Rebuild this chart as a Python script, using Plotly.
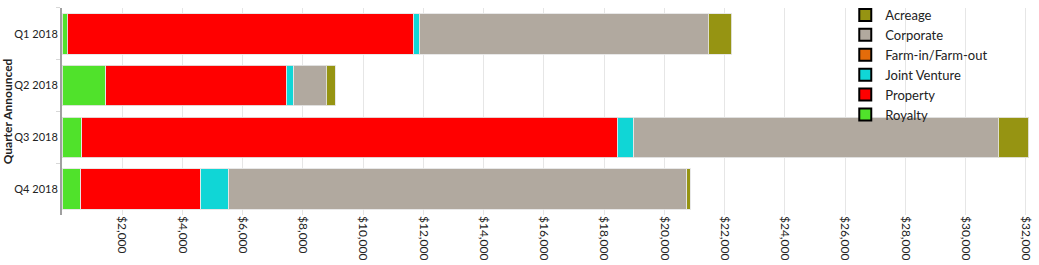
import plotly.graph_objects as go

quarters = ["Q1 2018", "Q2 2018", "Q3 2018", "Q4 2018"]
royalty = [170, 1450, 650, 620]
property_ = [11485, 5990, 17790, 3985]
farm_in = [0, 0, 0, 0]
joint_venture = [210, 250, 540, 930]
corporate = [9590, 1085, 12105, 15200]
acreage = [780, 300, 1015, 120]

tick_values = list(range(2000, 34000, 2000))
tick_labels = [f"${v:,}" for v in tick_values]

series = [
    ("Royalty", royalty, "#50E22B"),
    ("Property", property_, "#FF0000"),
    ("Farm-in/Farm-out", farm_in, "#E46C0A"),
    ("Joint Venture", joint_venture, "#10D6D6"),
    ("Corporate", corporate, "#B1A99F"),
    ("Acreage", acreage, "#969412"),
]
legend_order = ["Acreage", "Corporate", "Farm-in/Farm-out", "Joint Venture", "Property", "Royalty"]

FONT = "Lato, Open Sans, DejaVu Sans, sans-serif"

fig = go.Figure()
for name, vals, color in series:
    fig.add_trace(go.Bar(
        y=quarters, x=vals, name=name, orientation="h",
        marker=dict(color=color, line=dict(color="rgba(230,230,230,0.9)", width=1)),
        showlegend=False,
    ))

colors = {n: c for n, _, c in series}
for name in legend_order:
    fig.add_trace(go.Scatter(
        x=[None], y=[None], mode="markers", name=name,
        marker=dict(symbol="square", size=12, color=colors[name], line=dict(color="black", width=1)),
        showlegend=True,
    ))

fig.update_layout(
    barmode="stack",
    bargap=0.22,
    width=1039, height=265,
    margin=dict(l=62, r=4, t=0, b=50),
    plot_bgcolor="white", paper_bgcolor="white",
    font=dict(family=FONT, size=12, color="#222"),
    legend=dict(
        x=0.805, y=1.0, xanchor="left", yanchor="top",
        traceorder="normal", font=dict(family=FONT, size=13, color="#222"),
        bgcolor="rgba(255,255,255,0)", itemsizing="constant",
        tracegroupgap=0, itemwidth=30,
    ),
    xaxis=dict(
        range=[0, 32300], tickvals=tick_values, ticktext=tick_labels,
        tickangle=90, showgrid=True, gridcolor="#E6E6E6", gridwidth=1,
        zeroline=False, showline=False, ticks="", tickfont=dict(size=12, color="#222"),
        automargin=False,
    ),
    yaxis=dict(
        domain=[0, 0.963],
        categoryorder="array", categoryarray=quarters, autorange="reversed",
        showline=True, linecolor="#A0A0A0", linewidth=2,
        showgrid=False, ticks="outside", tickson="boundaries", ticklen=4,
        tickcolor="#D8D8D8", tickwidth=1,
        title=dict(text="<b>Quarter Announced</b>", font=dict(size=12, color="#222"), standoff=0),
        tickfont=dict(size=11, color="#222"),
        automargin=False,
    ),
)

fig.write_html("out.html")
